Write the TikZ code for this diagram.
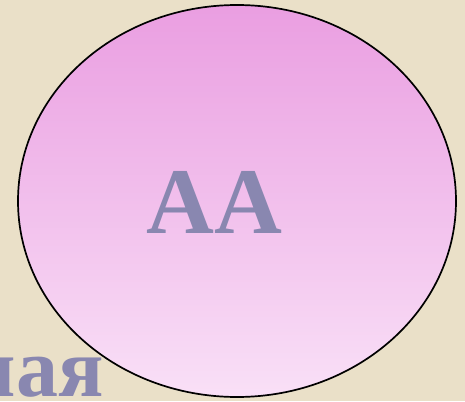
\documentclass[tikz,border=0pt]{standalone}
\usepackage{fontspec}
\setmainfont{Liberation Serif}
\definecolor{bgbeige}{RGB}{234,224,200}
\definecolor{pinktop}{RGB}{234,158,225}
\definecolor{pinkbot}{RGB}{249,224,247}
\definecolor{txtviolet}{RGB}{137,135,176}
\begin{document}
\begin{tikzpicture}[x=1pt,y=-1pt,
  bigtext/.style={font=\bfseries\fontsize{94}{94}\selectfont, text=txtviolet, inner sep=0pt}]
\useasboundingbox (0,0) rectangle (465,401);
\fill[bgbeige] (0,0) rectangle (465,401);
\node[bigtext, anchor=base east, font=\bfseries\fontsize{84}{84}\selectfont] (word) at (104,396) {ная};
\shade[top color=pinktop, bottom color=pinkbot, draw=black, line width=1.7pt] (237,201) ellipse [x radius=219, y radius=196];
\node[bigtext, anchor=base] (aa) at (214.5,233) {AA};
\end{tikzpicture}
\end{document}
